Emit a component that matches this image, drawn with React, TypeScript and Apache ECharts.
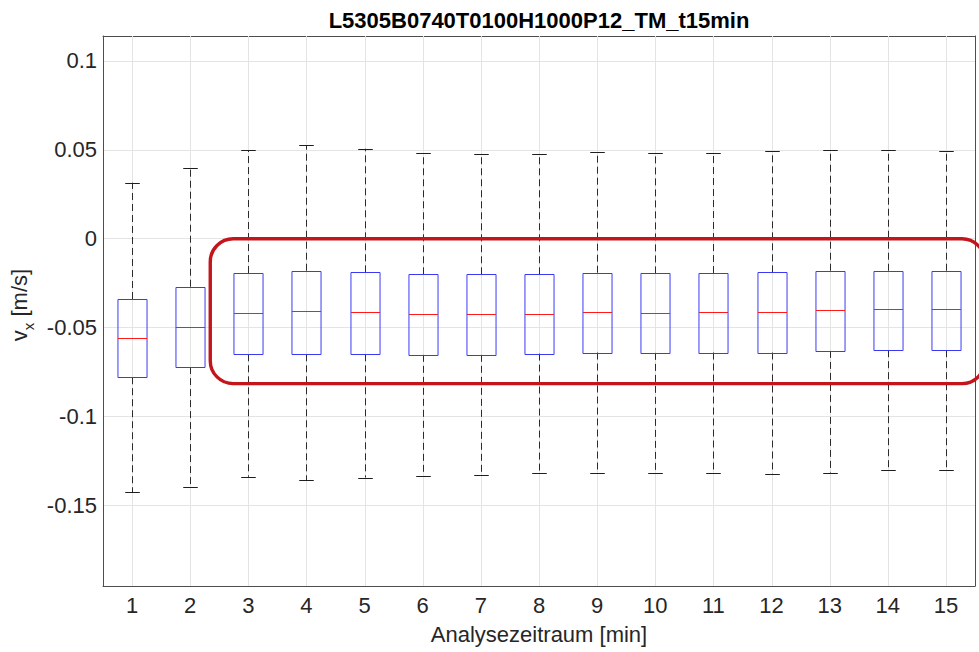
import React, { useEffect, useRef } from "react";
import * as echarts from "echarts";

// Analysis intervals (minutes)
const categories = ["1", "2", "3", "4", "5", "6", "7", "8", "9", "10", "11", "12", "13", "14", "15"];

// Box statistics of v_x [m/s] per interval
const upperWhisker = [0.0315, 0.0399, 0.0497, 0.0525, 0.0506, 0.0481, 0.0478, 0.0474, 0.0485, 0.048, 0.0481, 0.0493, 0.05, 0.0497, 0.0493];
const q3 = [-0.0339, -0.027, -0.0193, -0.018, -0.0189, -0.02, -0.02, -0.02, -0.0191, -0.0195, -0.0193, -0.0189, -0.018, -0.018, -0.018];
const median = [-0.056, -0.0496, -0.0417, -0.0408, -0.0414, -0.0421, -0.0423, -0.0421, -0.0412, -0.0416, -0.0414, -0.0412, -0.0402, -0.0397, -0.0397];
const q1 = [-0.0779, -0.0722, -0.065, -0.065, -0.065, -0.0653, -0.0653, -0.0646, -0.064, -0.0642, -0.064, -0.064, -0.0631, -0.0627, -0.0627];
const lowerWhisker = [-0.1427, -0.1399, -0.1339, -0.1357, -0.1343, -0.1333, -0.1326, -0.132, -0.1316, -0.1315, -0.1315, -0.1322, -0.1315, -0.1303, -0.1299];

// Value range of the y axis
const yRange = [-0.1953, 0.114];

// Highlight frame around intervals 3..15 (x in interval units, y in m/s)
const frameX = [2.345, 15.67];
const frameY = [0, -0.0815];

const titleText = "L5305B0740T0100H1000P12_TM_t15min";
const xName = "Analysezeitraum [min]";

export default function App() {
  const ref = useRef<HTMLDivElement>(null);

  useEffect(() => {
    document.body.style.margin = "0";
    const chart = echarts.init(ref.current!, null, { renderer: "svg" });
    const font = "'Liberation Sans', Arial, Helvetica, sans-serif";
    const axisColor = "#4d4d4d";
    const textColor = "#262626";
    const gridColor = "#e4e4e4";

    const boxData = categories.map((_, i) => [i, lowerWhisker[i], q1[i], median[i], q3[i], upperWhisker[i]]);

    const tickStyle = { inside: true, length: 7, lineStyle: { color: axisColor, width: 1 } };
    const snap = (v: number) => Math.round(v) + 0.5;

    chart.setOption({
      animation: false,
      backgroundColor: "#ffffff",
      textStyle: { fontFamily: font },
      grid: { left: 103, right: 4, top: 36, bottom: 66 },
      xAxis: [
        {
          type: "category",
          data: categories,
          position: "bottom",
          boundaryGap: true,
          axisLine: { onZero: false, lineStyle: { color: axisColor, width: 1 } },
          axisTick: { ...tickStyle, alignWithLabel: true, interval: 0 },
          axisLabel: { interval: 0, color: textColor, fontSize: 22, fontFamily: font, margin: 8 },
          splitLine: { show: false },
          name: xName,
          nameLocation: "middle",
          nameGap: 37,
          nameTextStyle: { color: textColor, fontSize: 22, fontFamily: font },
        },
        {
          type: "category",
          data: categories,
          position: "top",
          boundaryGap: true,
          axisLine: { onZero: false, lineStyle: { color: axisColor, width: 1 } },
          axisTick: { ...tickStyle, alignWithLabel: true, interval: 0 },
          axisLabel: { show: false },
          splitLine: { show: false },
        },
      ],
      yAxis: [
        {
          type: "value",
          min: yRange[0],
          max: yRange[1],
          minInterval: 0.05,
          maxInterval: 0.05,
          position: "left",
          axisLine: { show: true, onZero: false, lineStyle: { color: axisColor, width: 1 } },
          axisTick: { ...tickStyle, length: 8 },
          axisLabel: {
            color: textColor,
            fontSize: 22,
            fontFamily: font,
            margin: 6,
            showMinLabel: false,
            showMaxLabel: false,
          },
          splitLine: { show: true, lineStyle: { color: gridColor, width: 1 } },
          name: "{v|v}{s|x}{v| [m/s]}",
          nameLocation: "middle",
          nameGap: 67,
          nameTextStyle: {
            color: textColor,
            fontFamily: font,
            padding: [0, 0, 0, 12],
            rich: {
              v: { fontSize: 22, lineHeight: 32, color: textColor, fontFamily: font },
              s: { fontSize: 15, lineHeight: 16, verticalAlign: "bottom", color: textColor, fontFamily: font },
            },
          },
        },
        {
          type: "value",
          min: yRange[0],
          max: yRange[1],
          minInterval: 0.05,
          maxInterval: 0.05,
          position: "right",
          axisLine: { show: true, onZero: false, lineStyle: { color: axisColor, width: 1 } },
          axisTick: { ...tickStyle, length: 8 },
          axisLabel: { show: false },
          splitLine: { show: false },
        },
      ],
      series: [
        {
          type: "custom",
          z: 3,
          clip: false,
          data: boxData,
          encode: { x: 0, y: [1, 2, 3, 4, 5] },
          renderItem: (params: any, api: any) => {
            const cs = params.coordSys;
            const idx = api.value(0);
            const band = api.size([1, 0])[0];
            const halfBox = band * 0.25;
            const halfCap = band * 0.125;
            const pLow = api.coord([idx, api.value(1)]);
            const pQ1 = api.coord([idx, api.value(2)]);
            const pMed = api.coord([idx, api.value(3)]);
            const pQ3 = api.coord([idx, api.value(4)]);
            const pHigh = api.coord([idx, api.value(5)]);
            const cx = snap(pMed[0]);
            const dashed = { stroke: "#2b2b2b", lineWidth: 1, lineDash: [7, 4] };
            const cap = { stroke: "#1e1e1e", lineWidth: 1 };
            return {
              type: "group",
              children: [
                // vertical grid line of this interval
                {
                  type: "line",
                  shape: { x1: cx, y1: cs.y, x2: cx, y2: cs.y + cs.height },
                  style: { stroke: gridColor, lineWidth: 1 },
                },
                { type: "line", shape: { x1: cx, y1: pQ3[1], x2: cx, y2: pHigh[1] }, style: dashed },
                { type: "line", shape: { x1: cx, y1: pQ1[1], x2: cx, y2: pLow[1] }, style: dashed },
                { type: "line", shape: { x1: cx - halfCap, y1: snap(pHigh[1]), x2: cx + halfCap, y2: snap(pHigh[1]) }, style: cap },
                { type: "line", shape: { x1: cx - halfCap, y1: snap(pLow[1]), x2: cx + halfCap, y2: snap(pLow[1]) }, style: cap },
                {
                  type: "rect",
                  shape: { x: cx - halfBox, y: snap(pQ3[1]), width: halfBox * 2, height: snap(pQ1[1]) - snap(pQ3[1]) },
                  style: { fill: "none", stroke: "#3a3af5", lineWidth: 1 },
                },
                {
                  type: "line",
                  shape: { x1: cx - halfBox, y1: snap(pMed[1]), x2: cx + halfBox, y2: snap(pMed[1]) },
                  style: { stroke: "#ff1a1a", lineWidth: 1 },
                },
              ],
            };
          },
        },
      ],
    });

    // highlight frame placed through the axis scales
    const p0 = chart.convertToPixel({ xAxisIndex: 0 }, 0) as number;
    const p1 = chart.convertToPixel({ xAxisIndex: 0 }, 1) as number;
    const band = p1 - p0;
    const fx0 = p0 + (frameX[0] - 1) * band;
    const fx1 = p0 + (frameX[1] - 1) * band;
    const fy0 = chart.convertToPixel({ yAxisIndex: 0 }, frameY[0]) as number;
    const fy1 = chart.convertToPixel({ yAxisIndex: 0 }, frameY[1]) as number;

    chart.setOption({
      graphic: [
        {
          type: "text",
          x: 539,
          y: 20,
          style: {
            text: titleText,
            fontFamily: font,
            fontSize: 22,
            fontWeight: "bold",
            fill: "#000000",
            textAlign: "center",
            textVerticalAlign: "middle",
          },
        },
        {
          type: "rect",
          z: 10,
          shape: { x: fx0, y: fy0, width: fx1 - fx0, height: fy1 - fy0, r: 23 },
          style: { fill: "none", stroke: "#c3161c", lineWidth: 3.4 },
        },
      ],
    });

    return () => chart.dispose();
  }, []);

  return <div ref={ref} style={{ width: 979, height: 652 }} />;
}
